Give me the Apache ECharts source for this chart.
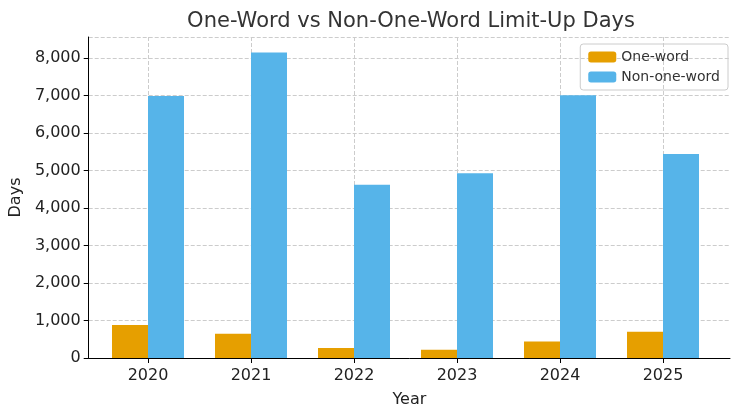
<!DOCTYPE html>
<html><head><meta charset="utf-8">
<script src="https://cdn.jsdelivr.net/npm/echarts@6/dist/echarts.min.js"></script>
<style>html,body{margin:0;padding:0;background:#fff}#c{width:740px;height:414px}</style>
</head><body><div id="c"></div>
<script>
// 数据
var years = ['2020', '2021', '2022', '2023', '2024', '2025'];
var oneWord = [880, 650, 270, 220, 440, 700];
var nonOneWord = [6990, 8150, 4620, 4930, 7010, 5440];

var chart = echarts.init(document.getElementById('c'));
var font = 'DejaVu Sans';
var dash = { show: true, lineStyle: { type: 'dashed', color: '#cccccc', width: 1 } };

chart.setOption({
     animation: false,
     textStyle: { fontFamily: font },
     title: {
          text: 'One-Word vs Non-One-Word Limit-Up Days',
          left: 406, top: 6, textAlign: 'center',
          textStyle: { fontSize: 21, fontWeight: 'normal', color: '#333', fontFamily: font }
     },
     legend: {
          right: 12, top: 44, orient: 'vertical', itemGap: 6,
          itemWidth: 28, itemHeight: 11,
          borderColor: '#cccccc', borderWidth: 1, borderRadius: 3, padding: [6, 8],
          textStyle: { fontSize: 14, color: '#333', fontFamily: font },
          data: ['One-word', 'Non-one-word']
     },
     grid: [
          { left: 82, right: 10, top: 37, bottom: 56 },
          { left: 148, right: 77, top: 37, bottom: 56 }
     ],
     xAxis: [{
          gridIndex: 0, type: 'value', min: 0, max: 1,
          axisLabel: { show: false }, axisTick: { show: false }, splitLine: { show: false },
          axisLine: { show: true, lineStyle: { color: '#000' } },
          name: 'Year', nameLocation: 'middle', nameGap: 34,
          nameTextStyle: { fontSize: 16, color: '#222' }
     }, {
          gridIndex: 1, type: 'category', boundaryGap: false, data: years,
          axisLine: { show: false },
          axisTick: { show: true, length: 5, lineStyle: { color: '#000' } },
          axisLabel: { fontSize: 16, color: '#222', margin: 10 },
          splitLine: dash
     }],
     yAxis: [{
          gridIndex: 0, type: 'value', min: 0, max: 8560, interval: 1000,
          axisLine: { show: true, lineStyle: { color: '#000' } },
          axisTick: { show: true, length: 5, lineStyle: { color: '#000' } },
          axisLabel: { fontSize: 16, color: '#222', showMaxLabel: false },
          splitLine: dash,
          name: 'Days', nameLocation: 'middle', nameGap: 58,
          nameTextStyle: { fontSize: 16, color: '#222' }
     }, {
          gridIndex: 1, type: 'value', min: 0, max: 8560, show: false
     }],
     series: [{
          name: 'One-word', type: 'bar', xAxisIndex: 1, yAxisIndex: 1,
          barWidth: 36, barGap: '0%', data: oneWord,
          itemStyle: { color: '#E69F00' }
     }, {
          name: 'Non-one-word', type: 'bar', xAxisIndex: 1, yAxisIndex: 1,
          barWidth: 36, barGap: '0%', data: nonOneWord,
          itemStyle: { color: '#56B4E9' }
     }]
});
</script>
</body></html>
